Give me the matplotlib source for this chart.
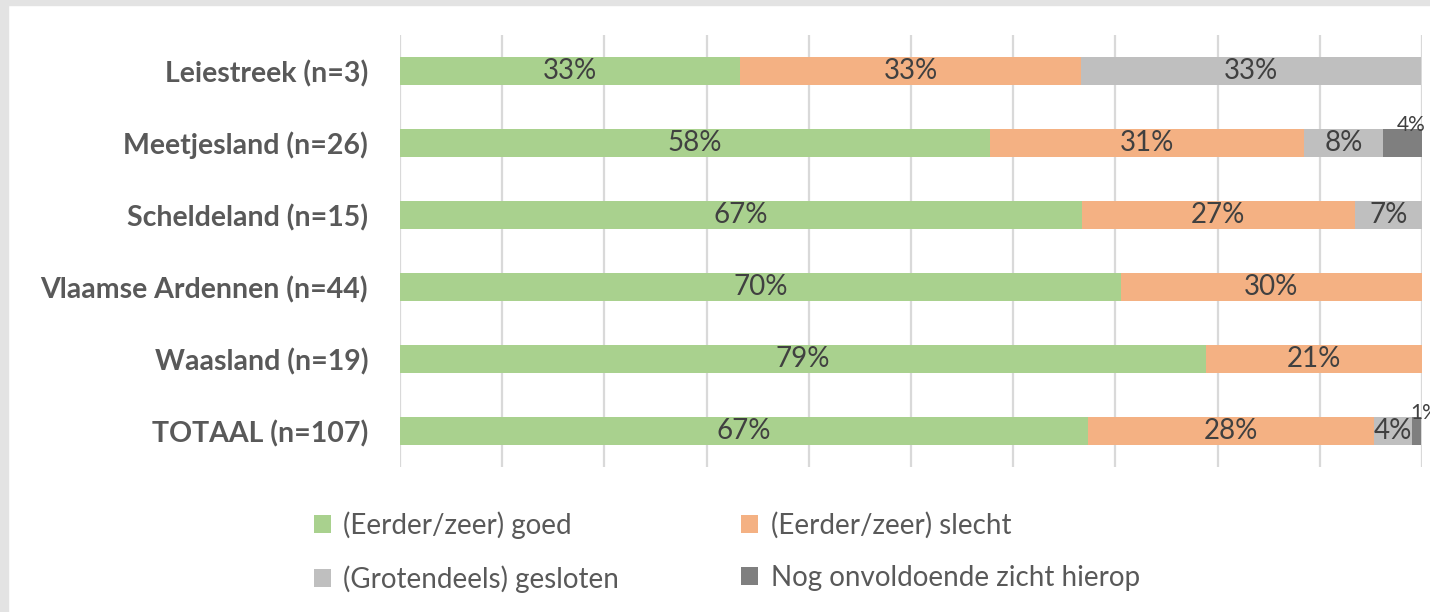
import numpy as np
import matplotlib.pyplot as plt
from matplotlib.patches import Rectangle

plt.rcParams['font.family'] = ['Lato', 'DejaVu Sans']

# regio's en aandelen (in %)
regions = ['Leiestreek (n=3)', 'Meetjesland (n=26)', 'Scheldeland (n=15)',
           'Vlaamse Ardennen (n=44)', 'Waasland (n=19)', 'TOTAAL (n=107)']
goed = [33.3, 57.7, 66.7, 70.5, 78.9, 67.3]
slecht = [33.3, 30.8, 26.7, 29.5, 21.1, 28.0]
gesloten = [33.3, 7.7, 6.7, 0.0, 0.0, 3.7]
onvoldoende = [0.0, 3.8, 0.0, 0.0, 0.0, 0.9]

series_names = ['(Eerder/zeer) goed', '(Eerder/zeer) slecht',
                '(Grotendeels) gesloten', 'Nog onvoldoende zicht hierop']
colors = ['#A9D18E', '#F4B183', '#BFBFBF', '#7F7F7F']
text_col = '#404040'

fig = plt.figure(figsize=(14.3, 6.12), dpi=100)
fig.patch.set_facecolor('white')

# grijze rand links en boven
fig.patches.append(Rectangle((0, 0), 8 / 1430, 1, transform=fig.transFigure,
                             color='#E3E3E3', zorder=0))
fig.patches.append(Rectangle((0, 1 - 5 / 612), 1, 5 / 612, transform=fig.transFigure,
                             color='#E3E3E3', zorder=0))

ax = fig.add_axes([400 / 1430, 1 - 467 / 612, 1022 / 1430, 432 / 612])

y = np.arange(len(regions))
data = [goed, slecht, gesloten, onvoldoende]
left = np.zeros(len(regions))
handles = []
for vals, name, col in zip(data, series_names, colors):
    vals = np.array(vals)
    b = ax.barh(y, vals, left=left, height=0.39, color=col, label=name, zorder=2)
    handles.append(b)
    for i, v in enumerate(vals):
        if v <= 0:
            continue
        cx = left[i] + v / 2
        if v < 5 and col == '#7F7F7F':
            # klein segment: label boven de balk
            ax.text(cx + 0.8, y[i] - 0.17, '%d%%' % round(v), ha='center',
                    va='baseline', fontsize=15, color=text_col, zorder=3, clip_on=False)
        else:
            ax.text(cx, y[i], '%d%%' % round(v), ha='center', va='center',
                    fontsize=20, color=text_col, zorder=3)
    left += vals

ax.set_xlim(0, 100)
ax.set_ylim(len(regions) - 0.5, -0.5)
ax.set_xticks(np.arange(0, 101, 10))
ax.set_xticklabels([])
ax.xaxis.grid(True, color='#D9D9D9', linewidth=1.6, zorder=0)
ax.set_axisbelow(True)
ax.tick_params(length=0)
ax.set_yticks(y)
ax.set_yticklabels(regions, fontsize=20.5, fontweight='bold', color='#595959')
ax.tick_params(axis='y', pad=23)
for s in ax.spines.values():
    s.set_visible(False)

# legenda: volgorde zodat rijen goed/slecht en gesloten/nog worden
order = [0, 2, 1, 3]
fig.legend([handles[k] for k in order], [series_names[k] for k in order],
           ncol=2, loc='upper left', bbox_to_anchor=(303 / 1430, 1 - 500 / 612),
           frameon=False, fontsize=20, labelcolor='#595959',
           handlelength=0.6, handleheight=0.6, handletextpad=0.45,
           columnspacing=4.4, labelspacing=0.95, borderaxespad=0)

fig.savefig('out.png', dpi=100)
